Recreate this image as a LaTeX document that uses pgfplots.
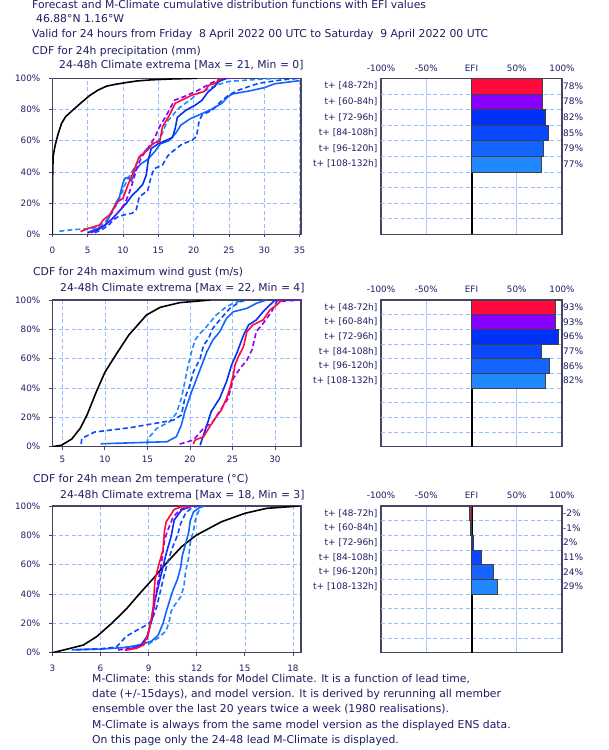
\documentclass[border=0pt]{standalone}
\usepackage{fontspec}
\setmainfont{DejaVu Sans}
\usepackage{pgfplots}
\pgfplotsset{compat=1.18}
\definecolor{navy}{RGB}{30,30,100}
\definecolor{framec}{RGB}{70,70,100}
\definecolor{gridb}{RGB}{150,190,250}
\definecolor{cred}{RGB}{255,10,60}
\definecolor{cpur}{RGB}{136,0,255}
\definecolor{cb1}{RGB}{0,50,245}
\definecolor{cb2}{RGB}{10,72,255}
\definecolor{cb3}{RGB}{20,100,255}
\definecolor{cb4}{RGB}{34,136,255}
\newcommand\ticks{\fontsize{8.8}{10}\selectfont}
\newcommand\lab{\fontsize{9}{10}\selectfont}
\newcommand\ttl{\fontsize{10.8}{12}\selectfont}
\tikzset{ttlnode/.style={anchor=west, inner sep=0pt, text height=7.8pt, text depth=0pt, text=navy, font=\ttl}}
\pgfplotsset{
 cdf/.style={
  scale only axis, width=248.7pt, anchor=south west,
  ymin=0, ymax=100, ytick={0,20,40,60,80,100},
  yticklabel={\pgfmathprintnumber{\tick}\%},
  grid=major, major grid style={gridb, dash pattern=on 4pt off 2.5pt, line width=0.6pt},
  axis line style={framec, line width=1.2pt},
  tick align=outside, major tick length=3pt, tick style={framec, line width=0.8pt},
  xtick pos=lower, ytick pos=left,
  ticklabel style={font=\ticks, text=navy},
  yticklabel style={xshift=-5.5pt},
  /pgf/number format/assume math mode=true,
  every axis plot/.append style={line width=1.6pt, line join=round},
 },
 efi/.style={
  scale only axis, width=181pt, anchor=south west, clip=false,
  xmin=-100, xmax=100, ymin=0, ymax=10,
  xtick={-100,-50,0,50,100}, xticklabels={-100\%,-50\%,EFI,50\%,100\%},
  xticklabel pos=upper, xticklabel style={font=\ticks, text=navy, yshift=3.5pt},
  xmajorgrids, major grid style={gridb!80, solid, line width=0.6pt},
  ytick={4.5,5.5,6.5,7.5,8.5,9.5},
  yticklabels={t+ [108-132h],t+ [96-120h],t+ [84-108h],t+ [72-96h],t+ [60-84h],t+ [48-72h]},
  yticklabel style={font=\lab, text=navy},
  tick style={draw=none}, major tick length=0pt,
  extra y ticks={1,2,3,4,5,6,7,8,9}, extra y tick labels={},
  extra y tick style={ymajorgrids=true, major grid style={gridb, dash pattern=on 4pt off 2.5pt, line width=0.6pt}},
  axis line style={framec, line width=1.2pt},
 },
 efibar/.style={xbar, bar width=1, bar shift=0pt, draw=black!75, line width=0.6pt, fill=#1},
}
\tikzset{vlab/.style={anchor=west, font=\lab, text=navy, inner sep=1pt}}
\begin{document}
\begin{tikzpicture}
\fill[white] (0,0) rectangle (609pt,-750pt);
% header
\node[ttlnode] at (32pt,-4.7pt) {Forecast and M-Climate cumulative distribution functions with EFI values};
\node[ttlnode] at (36pt,-19pt) {46.88°N 1.16°W};
\node[ttlnode] at (32pt,-34pt) {Valid for 24 hours from Friday\ \ 8 April 2022 00 UTC to Saturday\ \ 9 April 2022 00 UTC};
\node[ttlnode] at (32pt,-50.7pt) {CDF for 24h precipitation (mm)};
\node[ttlnode] at (59pt,-65pt) {24-48h Climate extrema [Max = 21, Min = 0]};
\node[ttlnode] at (33pt,-272pt) {CDF for 24h maximum wind gust (m/s)};
\node[ttlnode] at (60pt,-288pt) {24-48h Climate extrema [Max = 22, Min = 4]};
\node[ttlnode] at (33pt,-479pt) {CDF for 24h mean 2m temperature (°C)};
\node[ttlnode] at (60pt,-495pt) {24-48h Climate extrema [Max = 18, Min = 3]};
% footer
\node[ttlnode] at (92pt,-678.3pt) {M-Climate: this stands for Model Climate. It is a function of lead time,};
\node[ttlnode] at (92pt,-693.5pt) {date (+/-15days), and model version. It is derived by rerunning all member};
\node[ttlnode] at (92pt,-709pt) {ensemble over the last 20 years twice a week (1980 realisations).};
\node[ttlnode] at (92pt,-724.5pt) {M-Climate is always from the same model version as the displayed ENS data.};
\node[ttlnode] at (92pt,-740pt) {On this page only the 24-48 lead M-Climate is displayed.};

% ===== Panel 1: precipitation =====
\begin{axis}[cdf, at={(52.3pt,-234.3pt)}, height=156pt, xmin=0, xmax=35.2,
  xtick={0,5,10,15,20,25,30,35}, xticklabel style={yshift=-6.5pt}]
\addplot[black] coordinates {(0,0) (0.02,20) (0.06,40) (0.12,50) (0.4,57) (0.8,64) (1.3,71) (1.9,75.5) (3,80) (4,84) (5.3,89) (6.5,92.5) (7.7,95) (9,96.2) (10.5,97.3) (12,98.3) (14,99) (17,99.6) (20.5,100)};
\addplot[cb4, dash pattern=on 5pt off 3pt] coordinates {(1,2) (3,3) (5,3.5) (6.5,4.5) (7.5,8) (8.5,14) (9.2,20) (9.7,25) (10.3,32) (11,38) (11.8,44) (12.5,50) (13.2,54) (14,57) (15,60) (15.6,65) (16.2,72) (17,76) (17.7,80) (18.5,83) (19.5,86) (20.5,90) (22,93) (23.5,96) (25,98) (28,99) (32,100)};
\addplot[cb3] coordinates {(5,1) (6,3) (7.5,6) (8.5,15) (9,20) (9.5,24) (10,33) (10.3,36) (10.8,36.5) (11.2,34) (11.6,40) (12.5,45) (13.5,48) (14.5,53) (15.3,58) (16.5,60) (17.5,65) (18.2,70) (19.5,74) (21,77) (22.5,80) (24,84) (24.8,88) (25.5,90) (28,92) (30,94) (31.5,96.5) (35,98.5)};
\addplot[cb2, dash pattern=on 5pt off 3pt] coordinates {(6,1) (7,3) (8,6) (8.6,9) (9.2,11) (10.2,12.5) (11.3,13.5) (11.9,16) (12.3,24) (13.5,28) (14,37) (14.4,42) (15.6,44.4) (16.3,50) (17,53) (18.2,57.3) (19.8,60.5) (20.4,62.6) (20.8,73) (21.2,76.5) (22.7,79.7) (23.8,85) (25,89.3) (26.4,92.5) (29.2,96.8) (32.5,99) (35,100)};
\addplot[cb1] coordinates {(5,1) (6.5,3) (7.5,6) (8.5,10) (9.5,15) (10.5,20) (11.3,25) (12,28) (12.8,32) (13.3,38) (13.6,48) (14,55) (15,58) (16,60) (17,62) (17.4,68) (17.7,75) (18.9,79.5) (20.3,83) (21.2,86) (22,91) (22.9,94.5) (23.6,98) (24.7,100)};
\addplot[cpur, dash pattern=on 5pt off 3pt] coordinates {(5.5,1) (6.5,3) (7.5,6) (8.5,10) (9.5,15) (10.3,20) (11,28) (11.5,35) (12,43) (12.7,50) (13.5,55) (14.5,62) (15.3,70) (16,75) (16.7,81) (17.3,86) (18.5,88) (19.5,90) (20.5,92) (21.5,94.5) (22.5,97) (23.5,99) (24.5,100) (25.8,100)};
\addplot[cred] coordinates {(4,1.7) (5.1,3.8) (6.7,6) (7.2,9.2) (8.1,12.4) (8.8,17.7) (9.3,21) (10,23) (10.7,31.6) (11.4,39) (12.3,49.8) (13.5,54) (14.2,58.3) (15.2,59.4) (15.6,69) (16.6,76.5) (17.4,84) (19.8,89.3) (21.5,91.5) (22.2,95.7) (23.1,96.8) (23.6,99) (23.9,100)};
\end{axis}
\begin{axis}[efi, at={(381pt,-234.3pt)}, height=156pt]
\addplot[black, line width=2pt] coordinates {(0,0) (0,10)};
\addplot[efibar=cred] coordinates {(78,9.5)};
\addplot[efibar=cpur] coordinates {(78,8.5)};
\addplot[efibar=cb1] coordinates {(82,7.5)};
\addplot[efibar=cb2] coordinates {(85,6.5)};
\addplot[efibar=cb3] coordinates {(79,5.5)};
\addplot[efibar=cb4] coordinates {(77,4.5)};
\node[vlab] at (axis cs:100,9.5) {78\%};
\node[vlab] at (axis cs:100,8.5) {78\%};
\node[vlab] at (axis cs:100,7.5) {82\%};
\node[vlab] at (axis cs:100,6.5) {85\%};
\node[vlab] at (axis cs:100,5.5) {79\%};
\node[vlab] at (axis cs:100,4.5) {77\%};
\end{axis}

% ===== Panel 2: wind gust =====
\begin{axis}[cdf, at={(52.3pt,-446.7pt)}, height=146.7pt, xmin=3.82, xmax=33.06,
  xtick={5,10,15,20,25,30}, xticklabel style={yshift=-3pt}]
\addplot[black] coordinates {(3.82,0) (4.9,1) (6.1,5.2) (7.1,12.5) (7.9,21.6) (9.0,37.5) (10,50.7) (11.4,63.6) (12.8,76) (14.9,89.8) (16.5,95) (18.8,98.2) (22.4,100)};
\addplot[cb4, dash pattern=on 5pt off 3pt] coordinates {(14.9,1.8) (15.1,5.7) (16.1,12.5) (17.6,17) (18.4,22.7) (19,33) (19.4,44.3) (19.8,55.7) (20.2,64.8) (20.6,72.7) (21.2,77.3) (21.8,80.7) (22.4,85) (23.1,89.8) (24.3,95.5) (25.1,97.7) (26.3,100)};
\addplot[cb3] coordinates {(9.5,2) (15,3) (17.3,3.4) (18.4,6.8) (19,14.8) (19.4,24) (20.2,37.5) (20.8,46.6) (21.4,55.7) (22,64.8) (22.7,72.7) (23.5,78.4) (24.3,87.5) (25.1,92) (26.7,94.3) (27.8,97.7) (29,100)};
\addplot[cb2, dash pattern=on 5pt off 3pt] coordinates {(7.2,2) (7.3,5.7) (8.8,10) (13,13) (18,18) (19,21.6) (19.4,33) (20,42) (20.4,51) (21.2,60) (21.6,69) (22.2,74) (22.7,80.7) (23.5,86.4) (24.7,94.3) (25.9,98.9) (26.7,100)};
\addplot[cb1] coordinates {(21.2,1) (22,14.8) (22.5,23.9) (23.5,33) (24.3,44.3) (24.9,55.7) (25.5,63.6) (26.3,76) (26.9,83) (27.8,86.4) (28.6,92) (29.4,96.6) (30,100)};
\addplot[cpur, dash pattern=on 5pt off 3pt] coordinates {(18.8,1.8) (20.4,4.5) (21.6,12.5) (22.7,17) (23.7,26) (24.5,33) (25.1,46.6) (25.9,53.4) (26.7,59) (27.3,66) (27.8,78.4) (28.6,84) (29.6,92) (30.2,99) (33.1,100)};
\addplot[cred] coordinates {(20.4,1.8) (20.6,4.5) (21.6,6.8) (22.2,12.5) (23.1,20.5) (23.7,25) (24.3,33) (24.7,39.8) (25.1,48.9) (25.3,55.7) (25.7,61.4) (26.3,68.2) (26.7,78.4) (27.4,83) (28.6,86.4) (29.4,93.2) (30.2,96.6) (30.8,100)};
\end{axis}
\begin{axis}[efi, at={(381pt,-446.7pt)}, height=146.7pt]
\addplot[black, line width=2pt] coordinates {(0,0) (0,10)};
\addplot[efibar=cred] coordinates {(93,9.5)};
\addplot[efibar=cpur] coordinates {(93,8.5)};
\addplot[efibar=cb1] coordinates {(96,7.5)};
\addplot[efibar=cb2] coordinates {(77,6.5)};
\addplot[efibar=cb3] coordinates {(86,5.5)};
\addplot[efibar=cb4] coordinates {(82,4.5)};
\node[vlab] at (axis cs:100,9.5) {93\%};
\node[vlab] at (axis cs:100,8.5) {93\%};
\node[vlab] at (axis cs:100,7.5) {96\%};
\node[vlab] at (axis cs:100,6.5) {77\%};
\node[vlab] at (axis cs:100,5.5) {86\%};
\node[vlab] at (axis cs:100,4.5) {82\%};
\end{axis}

% ===== Panel 3: temperature =====
\begin{axis}[cdf, at={(52.3pt,-652.7pt)}, height=146.7pt, xmin=3, xmax=18.5,
  xtick={3,6,9,12,15,18}, xticklabel style={yshift=-6pt}]
\addplot[black] coordinates {(3,0) (3.69,1.8) (4.93,5.2) (5.76,10.9) (6.7,20) (7.63,30) (8.46,40.5) (9.3,50.7) (10.1,61) (11.06,72.3) (11.99,80.2) (13.55,89.3) (15,95) (16.35,98.4) (18.4,100)};
\addplot[cb4, dash pattern=on 5pt off 3pt] coordinates {(4.5,2) (6.5,3) (8,4) (9,6) (9.6,10) (10.1,15) (10.3,22) (10.4,28) (10.6,32) (11,38) (11.2,45) (11.3,55) (11.5,65) (11.6,75) (11.8,83) (11.9,90) (12.1,96) (12.3,100)};
\addplot[cb3] coordinates {(4.2,2) (6,2.5) (7.5,3.5) (8.5,5.5) (9.2,8) (9.6,12) (9.9,20) (10.1,28) (10.3,35) (10.5,42) (10.8,50) (11,58) (11.1,66) (11.3,74) (11.5,82) (11.6,90) (11.8,96) (12.2,99) (12.5,100)};
\addplot[cb2, dash pattern=on 5pt off 3pt] coordinates {(4.5,2) (6,2.5) (7,4) (7.6,11) (8.05,14) (8.9,19) (9.2,22) (9.5,31) (9.7,40) (9.95,52) (10.2,62) (10.5,72) (10.8,80) (11,88) (11.3,95) (11.7,99) (12.1,100)};
\addplot[cb1] coordinates {(7.6,1.8) (8.5,4.8) (8.9,11) (9.2,22.3) (9.4,36) (9.7,49.5) (9.9,58.6) (10.1,67.7) (10.4,79) (10.6,90.5) (11.06,97.3) (11.7,100)};
\addplot[cpur, dash pattern=on 5pt off 3pt] coordinates {(7.1,1.8) (8.46,4) (8.88,8.6) (9.08,17.7) (9.29,26.8) (9.5,42.7) (9.8,61) (10,76.8) (10.2,83.6) (10.54,92.7) (10.95,97.3) (11.37,99.5) (11.8,100)};
\addplot[cred] coordinates {(7.53,1.8) (8.25,3) (8.67,5.2) (9.0,13.2) (9.19,24.5) (9.29,31.4) (9.4,49.5) (9.6,58.6) (9.9,70) (10,83.6) (10.1,89.3) (10.6,97.7) (11.06,99.5) (11.6,100)};
\end{axis}
\begin{axis}[efi, at={(381pt,-652.7pt)}, height=146.7pt]
\addplot[black, line width=2pt] coordinates {(0,0) (0,10)};
\addplot[efibar=cred] coordinates {(-2,9.5)};
\addplot[efibar=cpur] coordinates {(-1,8.5)};
\addplot[efibar=cb1] coordinates {(2,7.5)};
\addplot[efibar=cb2] coordinates {(11,6.5)};
\addplot[efibar=cb3] coordinates {(24,5.5)};
\addplot[efibar=cb4] coordinates {(29,4.5)};
\node[vlab] at (axis cs:100,9.5) {-2\%};
\node[vlab] at (axis cs:100,8.5) {-1\%};
\node[vlab] at (axis cs:100,7.5) {2\%};
\node[vlab] at (axis cs:100,6.5) {11\%};
\node[vlab] at (axis cs:100,5.5) {24\%};
\node[vlab] at (axis cs:100,4.5) {29\%};
\end{axis}
\end{tikzpicture}
\end{document}
